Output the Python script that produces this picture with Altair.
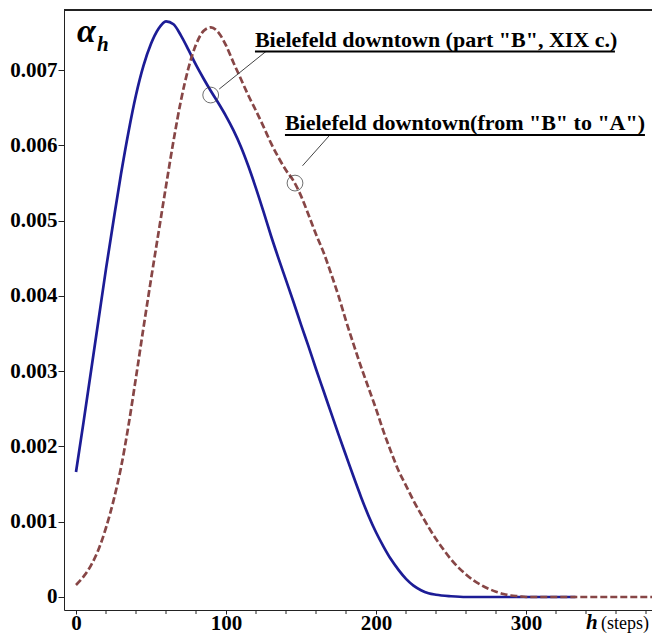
import altair as alt
import pandas as pd

# ---- data ----
blue_h = [0, 5, 10, 15, 20, 25, 30, 35, 40, 45, 50, 55, 60, 65, 70, 75, 80, 85, 90, 95,
          100, 105, 110, 115, 120, 125, 130, 135, 140, 145, 150, 155, 160, 165, 170, 175,
          180, 185, 190, 195, 200, 205, 210, 215, 220, 225, 230, 235, 240, 250, 260, 280,
          300, 333]
blue_v = [0.00166, 0.00232, 0.00300, 0.00368, 0.00436, 0.00500, 0.00562, 0.00618, 0.00667,
          0.00706, 0.00735, 0.00755, 0.00765, 0.00761, 0.00746, 0.00727, 0.00707, 0.00689,
          0.00672, 0.00656, 0.00639, 0.00620, 0.00598, 0.00572, 0.00543, 0.00512, 0.00480,
          0.00450, 0.00421, 0.00392, 0.00362, 0.00333, 0.00303, 0.00274, 0.00245, 0.00216,
          0.00188, 0.00160, 0.00133, 0.00108, 0.00086, 0.00067, 0.00050, 0.00036, 0.00024,
          0.00015, 0.00009, 0.00005, 0.00003, 0.00001, 0.0, 0.0, 0.0, 0.0]

red_h = [0, 5, 10, 15, 20, 25, 30, 35, 40, 45, 50, 55, 60, 65, 70, 75, 80, 85, 90, 95,
         100, 105, 110, 115, 120, 125, 130, 135, 140, 145, 150, 155, 160, 165, 170, 175,
         180, 185, 190, 195, 200, 205, 210, 215, 220, 225, 230, 235, 240, 245, 250, 255,
         260, 265, 270, 275, 280, 285, 290, 295, 300, 384]
red_v = [0.00016, 0.00027, 0.00042, 0.00063, 0.00092, 0.00128, 0.00172, 0.00228, 0.00292,
         0.00358, 0.00422, 0.00484, 0.00546, 0.00606, 0.00660, 0.00703, 0.00734, 0.00752,
         0.00757, 0.00750, 0.00733, 0.00710, 0.00688, 0.00666, 0.00646, 0.00625, 0.00603,
         0.00584, 0.00567, 0.00553, 0.00533, 0.00508, 0.00482, 0.00458, 0.00430, 0.00400,
         0.00367, 0.00336, 0.00306, 0.00278, 0.00250, 0.00220, 0.00193, 0.00168, 0.00148,
         0.00128, 0.00110, 0.00093, 0.00077, 0.00063, 0.00050, 0.00039, 0.00030, 0.00022,
         0.00016, 0.00011, 0.00007, 0.00004, 0.00002, 0.00001, 0.0, 0.0]

x_major_ticks = [0, 100, 200, 300]
x_minor_ticks = [20, 40, 60, 80, 120, 140, 160, 180, 220, 240, 260, 280, 320, 340, 360, 380]
y_tick_values = [0.0, 0.00025, 0.0005, 0.00075, 0.001, 0.00125, 0.0015, 0.00175, 0.002,
                 0.00225, 0.0025, 0.00275, 0.003, 0.00325, 0.0035, 0.00375, 0.004, 0.00425,
                 0.0045, 0.00475, 0.005, 0.00525, 0.0055, 0.00575, 0.006, 0.00625, 0.0065,
                 0.00675, 0.007, 0.00725, 0.0075, 0.00775]

# annotations (data coordinates)
ann_text = ['Bielefeld downtown (part "B", XIX c.)', 'Bielefeld downtown(from "B" to "A")']
ann_h = [119.3, 139.3]
ann_v = [0.00731, 0.00620]
ul_h2 = [359.3, 379.3]
ul_v = [0.00725, 0.00614]
lead_h1 = [126.7, 169.3]
lead_v1 = [0.00725, 0.00614]
lead_h2 = [95.5, 151.0]
lead_v2 = [0.00675, 0.00573]
circ_h = [89.8, 146.0]
circ_v = [0.00667, 0.00550]

W, H = 588, 600
XDOM = [-8, 384]
YDOM = [-0.000173, 0.0078]
FONT = "Liberation Serif"

xs = alt.Scale(domain=XDOM, nice=False, zero=False)
ys = alt.Scale(domain=YDOM, nice=False, zero=False)

blue_df = pd.DataFrame({"h": blue_h, "v": blue_v})
red_df = pd.DataFrame({"h": red_h, "v": red_v})
minor_df = pd.DataFrame({"h": x_minor_ticks})
ann_df = pd.DataFrame({"text": ann_text, "h": ann_h, "v": ann_v, "h2": ul_h2, "uv": ul_v,
                       "lh1": lead_h1, "lv1": lead_v1, "lh2": lead_h2, "lv2": lead_v2,
                       "ch": circ_h, "cv": circ_v})

axis_common = dict(
    title=None, grid=False, domainColor="#222", tickColor="#222", domainWidth=1,
    labelFont=FONT, labelFontSize=21, labelFontWeight="bold", labelColor="black",
    labelOverlap=False, labelFlush=False,
)

x_axis = alt.Axis(
    values=x_major_ticks,
    tickSize=4,
    labelPadding=-2,
    **axis_common,
)
y_major = "abs(datum.value*1000 - round(datum.value*1000)) < 0.001"
y_axis = alt.Axis(
    values=y_tick_values,
    labelExpr=f"{y_major} ? (datum.value == 0 ? '0' : format(datum.value, '.3f')) : ''",
    tickSize={"condition": {"test": y_major, "value": 6}, "value": 3},
    labelPadding=1,
    **axis_common,
)

blue = alt.Chart(blue_df).mark_line(color="#1c1c96", strokeWidth=2.7, interpolate="monotone").encode(
    x=alt.X("h:Q", scale=xs, axis=x_axis),
    y=alt.Y("v:Q", scale=ys, axis=y_axis),
)
red = alt.Chart(red_df).mark_line(color="#874646", strokeWidth=2.7, strokeDash=[7, 3],
                                  interpolate="monotone").encode(
    x=alt.X("h:Q", scale=xs),
    y=alt.Y("v:Q", scale=ys),
)

minor_x = alt.Chart(minor_df).mark_rule(color="#222", strokeWidth=1).encode(
    x=alt.X("h:Q", scale=xs), y=alt.value(H), y2=alt.value(H + 4)
)

frame = alt.Chart(blue_df).mark_rule(color="#222", strokeWidth=1).encode(
    x=alt.value(0), x2=alt.value(W), y=alt.value(0)
)

base_ann = alt.Chart(ann_df)
texts = base_ann.mark_text(font=FONT, fontSize=22, fontWeight="bold", align="left",
                           baseline="alphabetic", color="black").encode(
    x=alt.X("h:Q", scale=xs), y=alt.Y("v:Q", scale=ys), text="text:N")
underlines = base_ann.mark_rule(color="black", strokeWidth=2).encode(
    x=alt.X("h:Q", scale=xs), x2="h2:Q", y=alt.Y("uv:Q", scale=ys))
leaders = base_ann.mark_rule(color="#444", strokeWidth=1).encode(
    x=alt.X("lh1:Q", scale=xs), x2="lh2:Q", y=alt.Y("lv1:Q", scale=ys), y2="lv2:Q")
circles = base_ann.mark_point(shape="circle", size=250, filled=False, stroke="#333",
                              strokeWidth=1).encode(
    x=alt.X("ch:Q", scale=xs), y=alt.Y("cv:Q", scale=ys))

# axis titles as text
alpha_df = pd.DataFrame({"t": ["α"], "h": [0.7], "v": [0.00737]})
alpha_sub_df = pd.DataFrame({"t": ["h"], "h": [14.0], "v": [0.00726]})
xlab_h_df = pd.DataFrame({"t": ["h"], "h": [340.0], "v": [-0.00043]})
xlab_s_df = pd.DataFrame({"t": ["(steps)"], "h": [350.0], "v": [-0.00043]})

alpha = alt.Chart(alpha_df).mark_text(font=FONT, fontSize=34, fontWeight="bold", fontStyle="italic",
                                      align="left", baseline="alphabetic", color="black").encode(
    x=alt.X("h:Q", scale=xs), y=alt.Y("v:Q", scale=ys), text="t:N")
alpha_sub = alt.Chart(alpha_sub_df).mark_text(font=FONT, fontSize=21, fontWeight="bold",
                                              fontStyle="italic", align="left",
                                              baseline="alphabetic", color="black").encode(
    x=alt.X("h:Q", scale=xs), y=alt.Y("v:Q", scale=ys), text="t:N")
xlab_h = alt.Chart(xlab_h_df).mark_text(font=FONT, fontSize=21, fontWeight="bold",
                                        fontStyle="italic", align="left",
                                        baseline="alphabetic", color="black").encode(
    x=alt.X("h:Q", scale=xs), y=alt.Y("v:Q", scale=ys), text="t:N")
xlab_s = alt.Chart(xlab_s_df).mark_text(font=FONT, fontSize=18, align="left",
                                        baseline="alphabetic", color="black").encode(
    x=alt.X("h:Q", scale=xs), y=alt.Y("v:Q", scale=ys), text="t:N")

chart = alt.layer(
    blue, red, minor_x, frame, leaders, circles, underlines, texts, alpha, alpha_sub, xlab_h, xlab_s
).properties(
    width=W, height=H,
    padding={"left": 56, "top": 2, "right": 0, "bottom": 30},
    autosize=alt.AutoSizeParams(type="none"),
    background="white",
).configure_view(stroke=None)

chart.save("out.html", embed_options={"renderer": "svg", "actions": False})
